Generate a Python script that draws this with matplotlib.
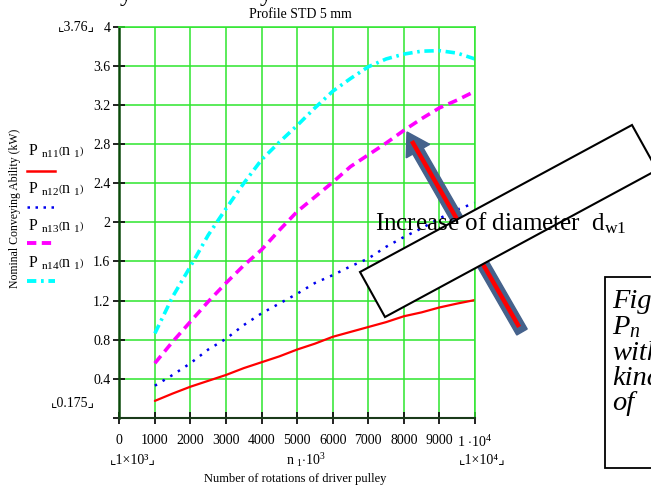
import matplotlib as mpl
mpl.use('Agg')
import matplotlib.pyplot as plt
from matplotlib.patches import Polygon, FancyArrow, Rectangle
import numpy as np

plt.rcParams['font.family'] = ['Liberation Serif', 'DejaVu Sans']
plt.rcParams['mathtext.fontset'] = 'custom'
plt.rcParams['mathtext.rm'] = 'Liberation Serif'
plt.rcParams['mathtext.it'] = 'Liberation Serif:italic'

# data (n1 in rpm, P in kW)
n1 = [1000, 1500, 2000, 2500, 3000, 3500, 4000, 4500, 5000, 5500,
      6000, 6500, 7000, 7500, 8000, 8500, 9000, 9500, 10000]
p_n11 = [0.175, 0.25, 0.32, 0.38, 0.44, 0.51, 0.57, 0.63, 0.70, 0.76,
         0.83, 0.88, 0.93, 0.98, 1.04, 1.08, 1.13, 1.17, 1.206]
p_n12 = [0.33, 0.44, 0.56, 0.70, 0.81, 0.95, 1.07, 1.17, 1.27, 1.38,
         1.46, 1.55, 1.63, 1.75, 1.85, 1.94, 2.04, 2.13, 2.20]
p_n13 = [0.56, 0.78, 0.985, 1.19, 1.38, 1.56, 1.72, 1.92, 2.11, 2.26,
         2.41, 2.57, 2.69, 2.81, 2.94, 3.06, 3.17, 3.25, 3.34]
p_n14 = [0.865, 1.24, 1.55, 1.87, 2.14, 2.40, 2.64, 2.82, 2.99, 3.17,
         3.34, 3.47, 3.59, 3.67, 3.72, 3.75, 3.755, 3.73, 3.67]

xticks = [0, 1000, 2000, 3000, 4000, 5000, 6000, 7000, 8000, 9000, 10000]
xticklabels = ['0', '1000', '2000', '3000', '4000', '5000', '6000', '7000',
               '8000', '9000', r'1 $\cdot$10$^{4}$']
yticks = [0, 0.4, 0.8, 1.2, 1.6, 2.0, 2.4, 2.8, 3.2, 3.6, 4.0]
yticklabels = ['', '0.4', '0.8', '1.2', '1.6', '2', '2.4', '2.8', '3.2', '3.6', '4']

W, H = 651, 488
fig = plt.figure(figsize=(W / 100, H / 100), dpi=100)

ax = fig.add_axes([119.3 / W, 1 - 418 / H, 355.7 / W, 391.3 / H])
ax.set_xlim(0, 10000)
ax.set_ylim(0, 4)
grid_c = '#2EE62E'
ax.set_xticks(xticks)
ax.set_xticklabels(xticklabels, fontsize=10)
ax.set_yticks(yticks)
ax.set_yticklabels(yticklabels, fontsize=10)
ax.grid(True, color=grid_c, lw=1.1)
ax.tick_params(direction='inout', length=9, width=1.3, color='#101010')
ax.tick_params(axis='x', pad=7)
ax.tick_params(axis='y', pad=2)
ax.spines['left'].set_color('#0A4A0A')
ax.spines['left'].set_linewidth(1.8)
ax.spines['bottom'].set_color('#1A3A1A')
ax.spines['bottom'].set_linewidth(1.5)
for s in ['top', 'right']:
    ax.spines[s].set_color(grid_c)
    ax.spines[s].set_linewidth(1.1)

ax.plot(n1, p_n11, color='red', lw=1.6, solid_capstyle='round')
ax.plot(n1, p_n12, color='#0000EE', lw=1.8, linestyle=(0, (1, 2.6)))
ax.plot(n1, p_n13, color='#FF00FF', lw=2.6, linestyle=(0, (2.6, 1.6)))
ax.plot(n1, p_n14, color='#00FFFF', lw=2.6, linestyle=(0, (2.6, 1.3, 0.7, 1.3)))

# overlay in pixel coordinates for texts and annotation shapes
ov = fig.add_axes([0, 0, 1, 1], zorder=5)
ov.set_xlim(0, W)
ov.set_ylim(H, 0)
ov.axis('off')
ov.patch.set_alpha(0)

ov.text(300, 15, 'Profile STD 5 mm', fontsize=10, ha='center', va='center')
ov.text(126, 1, 'y', fontsize=18, ha='center', va='baseline', clip_on=False)
ov.text(266, 1, 'y', fontsize=18, ha='center', va='baseline', clip_on=False)

ov.text(76, 27, '⌞3.76⌟', fontsize=10, ha='center', va='center')
ov.text(73, 403, '⌞0.175⌟', fontsize=10, ha='center', va='center')
ov.text(133, 460, '⌞1×10³⌟', fontsize=10, ha='center', va='center')
ov.text(306, 460, r'n $_{1}$$\cdot$10$^{3}$', fontsize=10, ha='center', va='center')
ov.text(482, 460, '⌞1×10⁴⌟', fontsize=10, ha='center', va='center')
ov.text(295, 479, 'Number of rotations of driver pulley', fontsize=9, ha='center', va='center')
ov.text(15, 208, 'Nominal Conveying Ability (kW)', fontsize=8.5, rotation=90,
        ha='center', va='center')

# legend
leg_names = ['n11', 'n12', 'n13', 'n14']
leg_styles = [dict(color='red', lw=1.8),
              dict(color='#0000EE', lw=1.8, linestyle=(0, (1, 2.2))),
              dict(color='#FF00FF', lw=2.8, linestyle=(0, (2.4, 1.4))),
              dict(color='#00FFFF', lw=2.8, linestyle=(0, (2.4, 1.2, 0.7, 1.2)))]
leg_text_y = [151, 189, 226, 263]
leg_line_y = [170.5, 206.5, 243, 281]
for name, st, ty, ly in zip(leg_names, leg_styles, leg_text_y, leg_line_y):
    ov.text(28, ty, r'P $_{\rm %s}$$\left(\mathrm{n}\ _{1}\right)$' % name, fontsize=11.5,
            ha='left', va='center')
    ov.plot([27, 55], [ly, ly], **st)

# arrow, rotated box and caption
ov.add_patch(FancyArrow(522, 332, -115, -200, width=12, head_width=27, head_length=22,
                        length_includes_head=True, color='#45628C', zorder=2))
ov.plot([518, 413], [325, 143], color='red', lw=3.2, zorder=3)
ov.add_patch(Polygon([(360, 272), (632, 125), (657, 170), (385, 317)], closed=True,
                     facecolor='white', edgecolor='black', lw=1.5, zorder=4))
ov.text(375, 230, r'Increase of diameter  d$_{\rm w1}$', fontsize=18, ha='left',
        va='baseline', zorder=6)

ov.add_patch(Rectangle((605, 277), 60, 191, facecolor='white', edgecolor='black',
                       lw=1.3, zorder=4, clip_on=False))
box_lines = ['Fig.', r'$P_{n}$', 'with', 'kinds', 'of']
for i, t in enumerate(box_lines):
    ov.text(612, 302 + 25.5 * i, t, fontsize=20.5, style='italic', ha='left',
            va='center', zorder=6)

fig.savefig('out.png', dpi=100)
